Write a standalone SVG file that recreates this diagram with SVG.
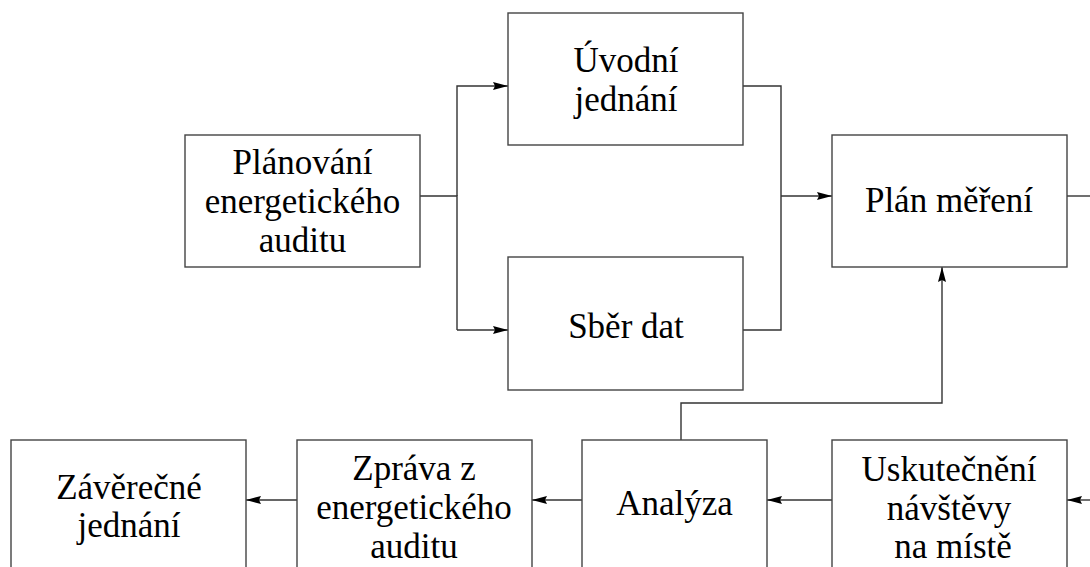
<svg xmlns="http://www.w3.org/2000/svg" width="1090" height="567" viewBox="0 0 1090 567">
<defs>
<marker id="ah" markerUnits="userSpaceOnUse" markerWidth="16" markerHeight="10" refX="15" refY="5" orient="auto">
<path d="M0,1 L15,5 L0,9 L2,5 z" fill="#000"/>
</marker>
</defs>
<style>
.box{fill:#fff;stroke:#444;stroke-width:1.4}
.t{font-family:"Liberation Serif","Times New Roman",serif;font-size:35px;fill:#000;text-anchor:middle}
.c{fill:none;stroke:#333;stroke-width:1.4}
.a{fill:none;stroke:#333;stroke-width:1.4;marker-end:url(#ah)}
</style>
<rect width="1090" height="567" fill="#fff"/>
<g id="connectors">
<path class="c" d="M420,196 H457 V330"/>
<path class="a" d="M457,196 V86 H508"/>
<path class="a" d="M457,330 H508"/>
<path class="c" d="M743,86 H781 V330 H743"/>
<path class="a" d="M781,196 H832"/>
<path class="c" d="M1067,196 H1092"/>
<path class="a" d="M1092,500 H1067"/>
<path class="a" d="M832,500 H767"/>
<path class="a" d="M582,500 H532"/>
<path class="a" d="M297,500 H246"/>
<path class="a" d="M681,440 V403 H942 V267"/>
</g>
<g id="planovani">
<rect class="box" x="185" y="135" width="235" height="132"/>
<text class="t" x="302.5" y="174">Plánování</text>
<text class="t" x="302.5" y="213">energetického</text>
<text class="t" x="302.5" y="252">auditu</text>
</g>
<g id="uvodni">
<rect class="box" x="508" y="13" width="235" height="132"/>
<text class="t" x="626" y="72">Úvodní</text>
<text class="t" x="626" y="111">jednání</text>
</g>
<g id="sber">
<rect class="box" x="508" y="257" width="235" height="133"/>
<text class="t" x="626" y="338">Sběr dat</text>
</g>
<g id="plan">
<rect class="box" x="832" y="135" width="235" height="132"/>
<text class="t" x="949" y="212">Plán měření</text>
</g>
<g id="zaverecne">
<rect class="box" x="11" y="440" width="235" height="133"/>
<text class="t" x="129" y="499">Závěrečné</text>
<text class="t" x="129" y="537">jednání</text>
</g>
<g id="zprava">
<rect class="box" x="297" y="440" width="235" height="133"/>
<text class="t" x="414" y="480">Zpráva z</text>
<text class="t" x="414" y="519">energetického</text>
<text class="t" x="414" y="558">auditu</text>
</g>
<g id="analyza">
<rect class="box" x="582" y="440" width="185" height="133"/>
<text class="t" x="674.5" y="515">Analýza</text>
</g>
<g id="uskutecneni">
<rect class="box" x="832" y="440" width="235" height="133"/>
<text class="t" x="949" y="481">Uskutečnění</text>
<text class="t" x="949" y="520">návštěvy</text>
<text class="t" x="953" y="558">na místě</text>
</g>
</svg>
